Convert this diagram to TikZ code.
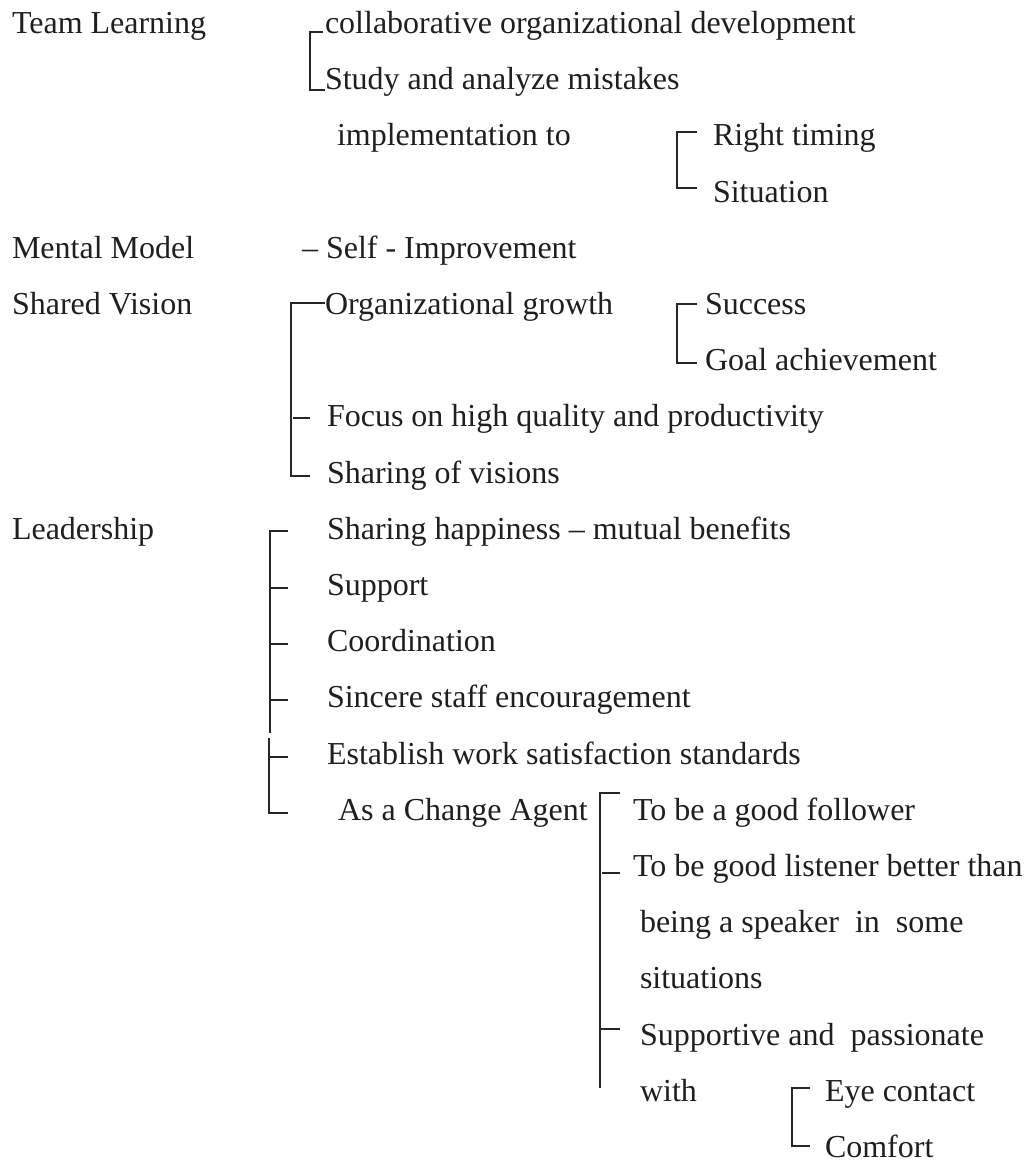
\documentclass[tikz,border=0pt]{standalone}
\usepackage{fontspec}
\setmainfont{Liberation Serif}
\tikzset{
  lbl/.style={anchor=base west, inner sep=0pt, outer sep=0pt,
    font=\fontsize{16}{19}\selectfont, text=black!88},
  brk/.style={line width=0.9pt, draw=black!85},
}
\begin{document}
\begin{tikzpicture}[x=0.5pt,y=-0.5pt]
\useasboundingbox (0,0) rectangle (1036,1163);
% left column
\node[lbl] (tl) at (12,33) {Team Learning};
\node[lbl] (mm) at (12,258) {Mental Model};
\node[lbl] (sv) at (12,314) {Shared Vision};
\node[lbl] (ld) at (12,539) {Leadership};
% team learning
\node[lbl] (cod) at (325,33) {collaborative organizational development};
\node[lbl] (sam) at (325,89) {Study and analyze mistakes};
\node[lbl] (imp) at (337,145) {implementation to};
\node[lbl] (rt) at (713,145) {Right timing};
\node[lbl] (sit) at (713,202) {Situation};
% mental model
\node[lbl] (si) at (302,258) {– Self - Improvement};
% shared vision
\node[lbl] (og) at (325,314) {Organizational growth};
\node[lbl] (suc) at (705,314) {Success};
\node[lbl] (ga) at (705,370) {Goal achievement};
\node[lbl] (foc) at (327,426) {Focus on high quality and productivity};
\node[lbl] (sov) at (327,483) {Sharing of visions};
% leadership
\node[lbl] (sh) at (327,539) {Sharing happiness – mutual benefits};
\node[lbl] (sup) at (327,595) {Support};
\node[lbl] (coo) at (327,651) {Coordination};
\node[lbl] (sse) at (327,707) {Sincere staff encouragement};
\node[lbl] (ews) at (327,764) {Establish work satisfaction standards};
\node[lbl] (aca) at (338,820) {As a Change Agent};
\node[lbl] (gf) at (633,820) {To be a good follower};
\node[lbl] (gl) at (633,876) {To be good listener better than};
\node[lbl] (gl2) at (640,932) {being a speaker\ \ in\ \ some};
\node[lbl] (gl3) at (640,988) {situations};
\node[lbl] (spp) at (640,1045) {Supportive and\ \ passionate};
\node[lbl] (wi) at (640,1101) {with};
\node[lbl] (eye) at (825,1101) {Eye contact};
\node[lbl] (com) at (825,1157) {Comfort};
% brackets
\draw[brk] (323,32) -- (310,32) -- (310,90) -- (325,90);
\draw[brk] (697,132) -- (677,132) -- (677,188) -- (697,188);
\draw[brk] (697,304) -- (677,304) -- (677,363) -- (697,363);
\draw[brk] (325,303) -- (291,303) -- (291,476) -- (310,476);
\draw[brk] (293,418) -- (310,418);
\draw[brk] (288,531) -- (270,531) -- (270,733);
\draw[brk] (269,738) -- (269,813) -- (288,813);
\foreach \yy in {588,644,700,757} \draw[brk] (270,\yy) -- (288,\yy);
\draw[brk] (620,793) -- (600,793) -- (600,1088);
\draw[brk] (602,873) -- (620,873);
\draw[brk] (600,1029) -- (620,1029);
\draw[brk] (810,1088) -- (792,1088) -- (792,1146) -- (810,1146);
\end{tikzpicture}
\end{document}
